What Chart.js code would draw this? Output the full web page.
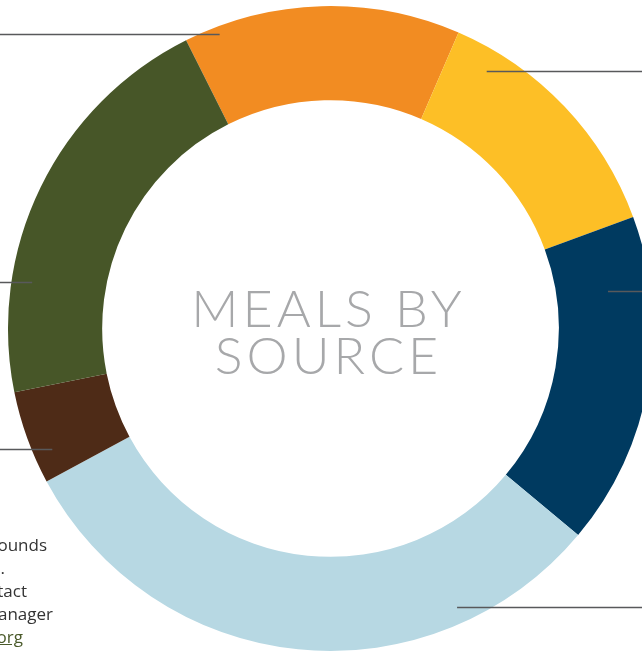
<!DOCTYPE html>
<html>
<head>
<meta charset="utf-8">
<script src="https://cdn.jsdelivr.net/npm/chart.js@4"></script>
<style>
  html, body { margin: 0; padding: 0; background: #fff; overflow: hidden; }
  #wrap { position: relative; width: 642px; height: 652px; overflow: hidden; }
  #mealsChart { position: absolute; left: 0; top: 0; }
  .note span { position: absolute; font-family: "Open Sans", Lato, sans-serif; font-size: 17px;
               line-height: 20px; color: #333; white-space: nowrap; text-align: right; }
  .note a { color: #4a5a2a; text-decoration: underline; }
</style>
</head>
<body>
<div id="wrap">
  <canvas id="mealsChart" width="660" height="652"></canvas>
  <div class="note">
    <span style="right: 595px; top: 535px;">pounds</span>
    <span style="right: 637px; top: 558px;">s.</span>
    <span style="right: 615px; top: 581px;">tact</span>
    <span style="right: 589px; top: 604px;">manager</span>
    <span style="right: 619px; top: 627px;"><a>.org</a></span>
  </div>
</div>
<script>
// slices, clockwise from the top-left orange one
const sources = ['Source A', 'Source B', 'Source C', 'Source D', 'Source E', 'Source F'];
const shares = [13.9, 12.9, 16.7, 31.1, 4.7, 20.8];
const sliceColors = ['#f28c22', '#fdbf26', '#003a60', '#b7d8e3', '#4e2b17', '#475628'];
const centerLines = ['MEALS BY', 'SOURCE'];

// where each leader line touches its slice (fraction along the arc, fraction of radius)
const leaderSpots = [
  { t: 0.12, r: 0.977 },
  { t: 0.17, r: 0.933 },
  { t: 0.21, r: 0.868 },
  { t: 0.23, r: 0.949 },
  { t: 0.29, r: 0.94 },
  { t: 0.27, r: 0.936 }
];

const leaderPlugin = {
  id: 'leaders',
  afterDatasetsDraw(chart) {
    const ctx = chart.ctx;
    const arcs = chart.getDatasetMeta(0).data;
    ctx.save();
    ctx.strokeStyle = '#58595b';
    ctx.lineWidth = 1.5;
    arcs.forEach((arc, i) => {
      const spot = leaderSpots[i];
      const a = arc.startAngle + spot.t * (arc.endAngle - arc.startAngle);
      const x = arc.x + Math.cos(a) * arc.outerRadius * spot.r;
      const y = Math.round(arc.y + Math.sin(a) * arc.outerRadius * spot.r) + 0.5;
      const edge = x < arc.x ? 0 : 642;
      ctx.beginPath();
      ctx.moveTo(x, y);
      ctx.lineTo(edge, y);
      ctx.stroke();
    });
    ctx.restore();
  },
  afterDraw(chart) {
    const ctx = chart.ctx;
    const arc = chart.getDatasetMeta(0).data[0];
    const spacing = 4;
    ctx.save();
    ctx.fillStyle = '#a7a8aa';
    ctx.font = '300 52px Lato, "Open Sans", sans-serif';
    ctx.textAlign = 'center';
    ctx.textBaseline = 'alphabetic';
    if ('letterSpacing' in ctx) ctx.letterSpacing = spacing + 'px';
    const cx = arc.x - 4 + spacing / 2;
    ctx.fillText(centerLines[0], cx, arc.y - 2);
    ctx.fillText(centerLines[1], cx, arc.y + 45);
    ctx.restore();
  }
};

new Chart(document.getElementById('mealsChart'), {
  type: 'doughnut',
  data: {
    labels: sources,
    datasets: [{
      data: shares,
      backgroundColor: sliceColors,
      borderWidth: 0
    }]
  },
  options: {
    responsive: false,
    animation: false,
    rotation: -26.6,
    cutout: '70.8%',
    layout: { padding: { left: 8, top: 6, right: 7, bottom: 1 } },
    plugins: {
      legend: { display: false },
      tooltip: { enabled: false }
    }
  },
  plugins: [leaderPlugin]
});
</script>
</body>
</html>
